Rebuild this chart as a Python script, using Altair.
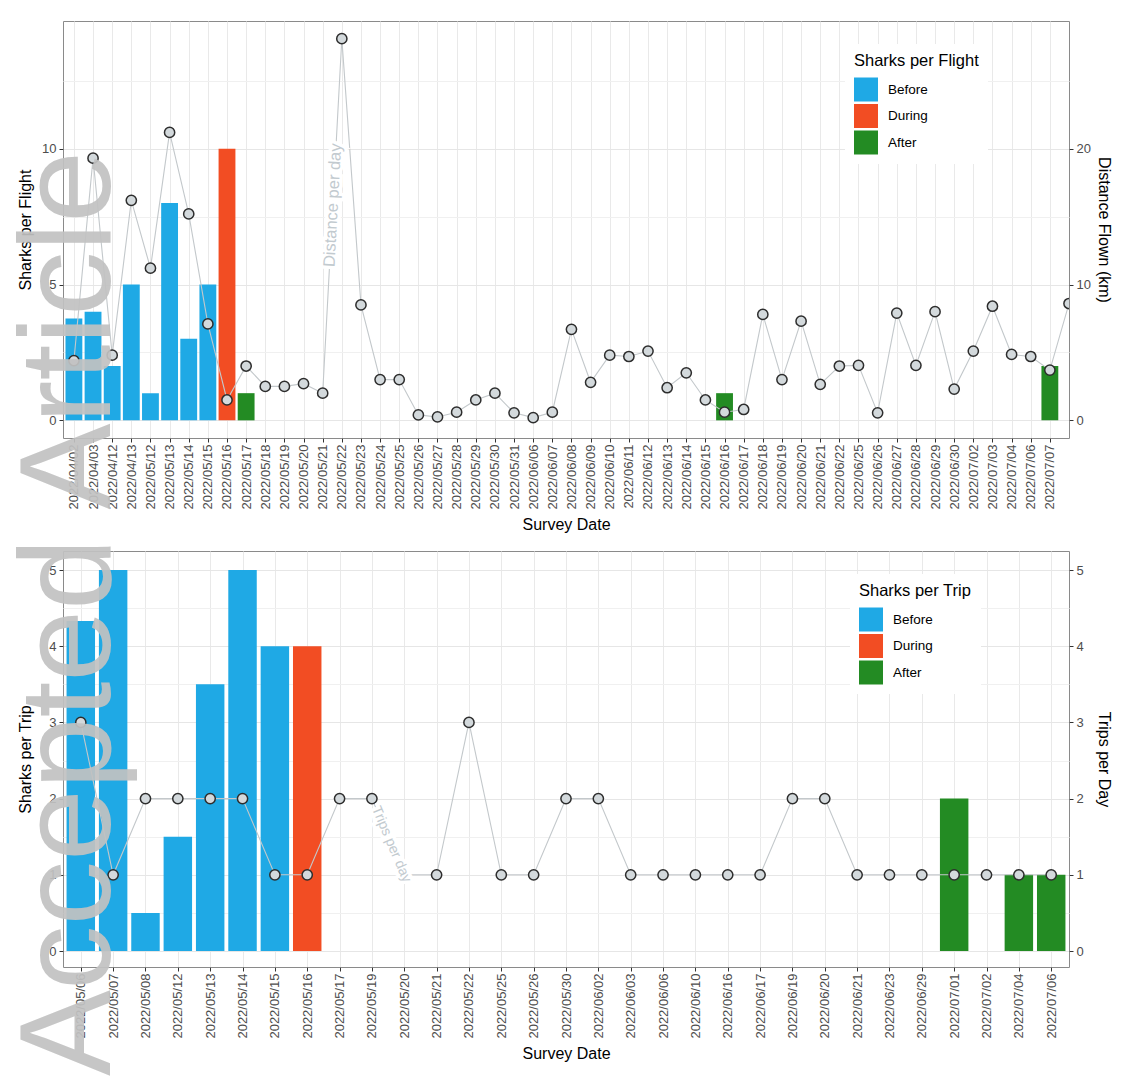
import math

import altair as alt
import pandas as pd

FONT = "Liberation Sans"
EVENT_DATE = "2022/05/16"
PERIODS = ["Before", "During", "After"]
PERIOD_COLORS = ["#1fa9e5", "#f24d23", "#238b23"]
LINE_COLOR = "#c3c8cb"
POINT_FILL = "#d3d9dc"
NOTE_COLOR = "#c2cacf"

# ---- upper panel: drone flights ----
flight_dates = [
    "2022/04/02", "2022/04/03", "2022/04/12", "2022/04/13", "2022/05/12", "2022/05/13",
    "2022/05/14", "2022/05/15", "2022/05/16", "2022/05/17", "2022/05/18", "2022/05/19",
    "2022/05/20", "2022/05/21", "2022/05/22", "2022/05/23", "2022/05/24", "2022/05/25",
    "2022/05/26", "2022/05/27", "2022/05/28", "2022/05/29", "2022/05/30", "2022/05/31",
    "2022/06/06", "2022/06/07", "2022/06/08", "2022/06/09", "2022/06/10", "2022/06/11",
    "2022/06/12", "2022/06/13", "2022/06/14", "2022/06/15", "2022/06/16", "2022/06/17",
    "2022/06/18", "2022/06/19", "2022/06/20", "2022/06/21", "2022/06/22", "2022/06/25",
    "2022/06/26", "2022/06/27", "2022/06/28", "2022/06/29", "2022/06/30", "2022/07/02",
    "2022/07/03", "2022/07/04", "2022/07/06", "2022/07/07",
]
sharks_per_flight = [
    3.75, 4, 2, 5, 1, 8, 3, 5, 10, 1,
    0, 0, 0, 0, 0, 0, 0, 0, 0, 0,
    0, 0, 0, 0, 0, 0, 0, 0, 0, 0,
    0, 0, 0, 0, 1, 0, 0, 0, 0, 0,
    0, 0, 0, 0, 0, 0, 0, 0, 0, 0,
    0, 2,
]
distance_km = [
    4.4, 19.3, 4.8, 16.2, 11.2, 21.2, 15.2, 7.1, 1.5, 4.0,
    2.5, 2.5, 2.7, 2.0, 28.1, 8.5, 3.0, 3.0, 0.4, 0.25,
    0.6, 1.5, 2.0, 0.55, 0.2, 0.6, 6.7, 2.8, 4.8, 4.7,
    5.1, 2.4, 3.5, 1.5, 0.6, 0.8, 7.8, 3.0, 7.3, 2.65,
    4.0, 4.05, 0.55, 7.9, 4.05, 8.0, 2.3, 5.1, 8.4, 4.85,
    4.7, 3.7, 8.6,
]

# ---- lower panel: boat trips ----
trip_dates = [
    "2022/05/06", "2022/05/07", "2022/05/08", "2022/05/12", "2022/05/13", "2022/05/14",
    "2022/05/15", "2022/05/16", "2022/05/17", "2022/05/19", "2022/05/20", "2022/05/21",
    "2022/05/22", "2022/05/25", "2022/05/26", "2022/05/30", "2022/06/02", "2022/06/03",
    "2022/06/06", "2022/06/10", "2022/06/16", "2022/06/17", "2022/06/19", "2022/06/20",
    "2022/06/21", "2022/06/23", "2022/06/29", "2022/07/01", "2022/07/02", "2022/07/04",
    "2022/07/06",
]
sharks_per_trip = [
    4.33, 5, 0.5, 1.5, 3.5, 5, 4, 4, 0, 0,
    0, 0, 0, 0, 0, 0, 0, 0, 0, 0,
    0, 0, 0, 0, 0, 0, 0, 2, 0, 1,
    1,
]
trips_per_day = [
    3, 1, 2, 2, 2, 2, 1, 1, 2, 2,
    1, 1, 3, 1, 1, 2, 2, 1, 1, 1,
    1, 1, 2, 2, 1, 1, 1, 1, 1, 1,
    1,
]

W = 1006
H_TOP = 417
H_BOT = 416
TOP_X = [-0.57, 52.0]
BOT_X = [-0.55, 30.55]
TOP_BAR_Y = [-0.65, 14.7]
TOP_LINE_Y = [-1.3, 29.4]
BOT_Y = [-0.21, 5.25]


def period_of(d):
    if d < EVENT_DATE:
        return "Before"
    return "During" if d == EVENT_DATE else "After"


def x_axis(dates):
    labels = ",".join(f"'{d}'" for d in dates)
    return alt.Axis(
        title="Survey Date", values=list(range(len(dates))),
        labelExpr=f"[{labels}][datum.value]", labelAngle=270,
        labelOverlap=False, labelFlush=False, grid=True,
        gridColor="#e9e9e9", titlePadding=7,
    )


def left_axis(title, values, major):
    minor = f"abs(datum.value / {major} - round(datum.value / {major})) > 0.000001"
    return alt.Axis(
        title=title, orient="left", values=values,
        labelExpr=f"{minor} ? '' : '' + datum.value",
        tickColor={"condition": {"test": minor, "value": "transparent"}, "value": "#333333"},
        gridColor={"condition": {"test": minor, "value": "#f0f0f0"}, "value": "#e6e6e6"},
        grid=True, minExtent=22, maxExtent=22, titlePadding=8, labelPadding=3,
    )


def right_axis(title, values):
    return alt.Axis(
        title=title, orient="right", values=values, grid=False,
        minExtent=22, maxExtent=22, titlePadding=4, labelPadding=3,
    )


def legend(title, x, y):
    return alt.Legend(
        title=title, orient="none", legendX=x, legendY=y,
        fillColor="white", padding=9,
        titleFont=FONT, titleFontSize=16.5, titleFontWeight="normal",
        titleColor="black", titlePadding=8,
        labelFont=FONT, labelFontSize=13.5, labelColor="black", labelOffset=10,
        symbolType="square", symbolSize=576, symbolStrokeWidth=0,
        symbolOpacity=1, rowPadding=2.5,
    )


def along_segment(values, i0, frac, x_dom, y_dom, height):
    """Point part-way along the segment i0 -> i0+1 and its on-screen angle."""
    v0, v1 = values[i0], values[i0 + 1]
    px = W / (x_dom[1] - x_dom[0])
    py = height / (y_dom[1] - y_dom[0])
    ang = math.degrees(math.atan2(-(v1 - v0) * py, px)) % 360
    return i0 + frac, v0 + frac * (v1 - v0), ang


def panel(dates, bar_vals, line_vals, x_dom, bar_dom, line_dom, height,
          bar_axis, line_axis, legend_def, note_text, note_seg, note_frac, note_size):
    xs = alt.Scale(domain=x_dom, nice=False, zero=False)
    xa = x_axis(dates)

    bar_df = pd.DataFrame({"i": range(len(dates)), "date": dates, "value": bar_vals})
    bar_df["period"] = bar_df["date"].map(period_of)
    bar_df = bar_df[bar_df["value"] > 0]

    bars = alt.Chart(bar_df).transform_calculate(
        lo="datum.i - 0.44", hi="datum.i + 0.44"
    ).mark_bar().encode(
        x=alt.X("lo:Q", scale=xs, axis=xa),
        x2="hi:Q",
        y=alt.Y("value:Q", scale=alt.Scale(domain=bar_dom, nice=False, zero=False), axis=bar_axis),
        y2=alt.datum(0),
        color=alt.Color("period:N", scale=alt.Scale(domain=PERIODS, range=PERIOD_COLORS),
                        legend=legend_def),
    )

    line_df = pd.DataFrame({"i": range(len(line_vals)), "v": line_vals})
    ys = alt.Scale(domain=line_dom, nice=False, zero=False)

    line = alt.Chart(line_df).mark_line(color=LINE_COLOR, strokeWidth=1.1, clip=True).encode(
        x=alt.X("i:Q", scale=xs, axis=xa),
        y=alt.Y("v:Q", scale=ys, axis=line_axis),
    )
    pts = alt.Chart(line_df).mark_circle(
        size=105, color=POINT_FILL, stroke="#2d2d2d", strokeWidth=1.5, opacity=1, clip=True
    ).encode(
        x=alt.X("i:Q", scale=xs, axis=xa),
        y=alt.Y("v:Q", scale=ys, axis=None),
    )

    nx, ny, nang = along_segment(line_vals, note_seg, note_frac, x_dom, line_dom, height)
    note_df = pd.DataFrame({"x": [nx], "y": [ny], "t": [note_text]})
    note_enc = dict(
        x=alt.X("x:Q", scale=xs, axis=xa),
        y=alt.Y("y:Q", scale=ys, axis=None),
        text="t:N",
    )
    halo = alt.Chart(note_df).mark_text(
        font=FONT, fontSize=note_size, angle=nang, align="center", baseline="middle",
        stroke="white", strokeWidth=7, color="white",
    ).encode(**note_enc)
    note = alt.Chart(note_df).mark_text(
        font=FONT, fontSize=note_size, angle=nang, align="center", baseline="middle",
        color=NOTE_COLOR,
    ).encode(**note_enc)

    return [bars, line, pts, halo, note]


top_layers = panel(
    flight_dates, sharks_per_flight, distance_km, TOP_X, TOP_BAR_Y, TOP_LINE_Y, H_TOP,
    left_axis("Sharks per Flight", [0, 2.5, 5, 7.5, 10, 12.5], 5),
    right_axis("Distance Flown (km)", [0, 10, 20]),
    legend("Sharks per Flight", 782, 23),
    "Distance per day", 13, 0.53, 16.5,
)
top = alt.layer(*top_layers).resolve_scale(y="independent").properties(width=W, height=H_TOP)

bot_layers = panel(
    trip_dates, sharks_per_trip, trips_per_day, BOT_X, BOT_Y, BOT_Y, H_BOT,
    left_axis("Sharks per Trip", [0, 0.5, 1, 1.5, 2, 2.5, 3, 3.5, 4, 4.5, 5], 1),
    right_axis("Trips per Day", [0, 1, 2, 3, 4, 5]),
    legend("Sharks per Trip", 787, 23),
    "Trips per day", 9, 0.6, 14,
)

# journal watermark running up the left margin
watermark = alt.Chart(pd.DataFrame({"t": ["Accepted Article"]})).mark_text(
    font=FONT, fontSize=129, angle=270, align="left", baseline="alphabetic",
    color="#c2c2c2", opacity=0.92,
).encode(x=alt.value(47), y=alt.value(525), text="t:N")

bottom = alt.layer(*bot_layers, watermark).resolve_scale(y="independent").properties(
    width=W, height=H_BOT
)

chart = alt.vconcat(top, bottom, spacing=113, bounds="flush").resolve_scale(
    color="independent"
).resolve_legend(color="independent").properties(
    padding={"left": 6, "top": 20, "right": 4, "bottom": 4},
    background="white",
).configure_view(
    stroke="#8a8a8a", strokeWidth=1
).configure_axis(
    labelFont=FONT, labelFontSize=13, labelColor="#4d4d4d",
    titleFont=FONT, titleFontSize=16, titleFontWeight="normal", titleColor="black",
    domain=False, tickSize=4, tickColor="#333333", tickWidth=1, labelPadding=2,
)

chart.save("out.html", embed_options={"renderer": "svg", "actions": False})
